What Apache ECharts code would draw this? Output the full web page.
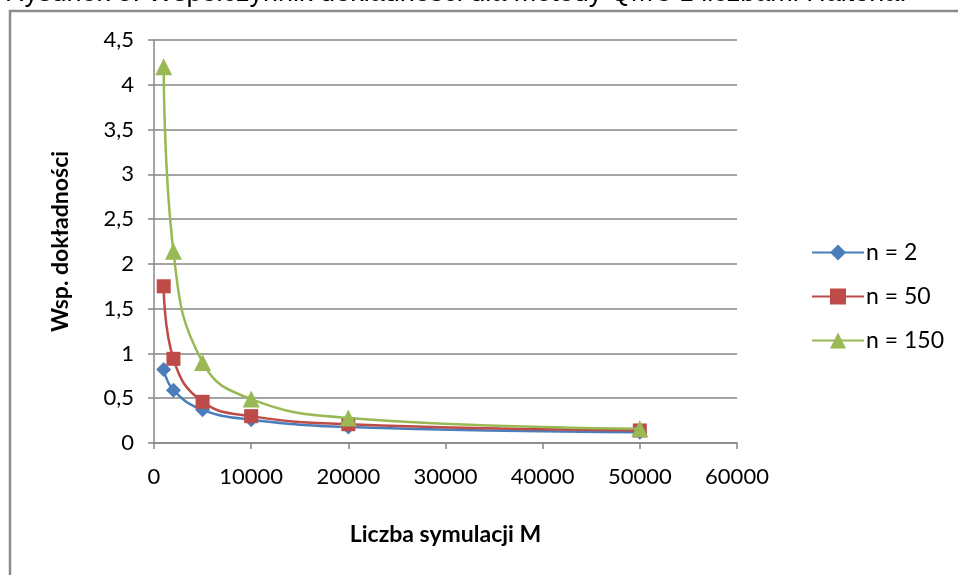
<!DOCTYPE html>
<html>
<head>
<meta charset="utf-8">
<script src="https://cdn.jsdelivr.net/npm/echarts@6/dist/echarts.min.js"></script>
<style>html,body{margin:0;padding:0;background:#fff}#c{width:958px;height:575px}</style>
</head>
<body>
<div id="c"></div>
<script>
const xValues = [1000, 2000, 5000, 10000, 20000, 50000];
const seriesNames = ['n = 2', 'n = 50', 'n = 150'];
const n2 = [0.82, 0.59, 0.37, 0.26, 0.18, 0.12];
const n50 = [1.75, 0.94, 0.46, 0.30, 0.21, 0.14];
const n150 = [4.20, 2.14, 0.90, 0.49, 0.28, 0.16];
const titleText = 'Rysunek 3. Współczynnik dokładności dla metody QMC z liczbami Haltona.';
const xName = 'Liczba symulacji M';
const yName = 'Wsp. dokładności';

const FONT = 'Lato';
const chart = echarts.init(document.getElementById('c'));
function pairs(ys){ return xValues.map((x,i)=>[x, ys[i]]); }
const colors = ['#4A7EBB', '#BE4B48', '#98B954'];
const symbols = ['diamond', 'rect', 'triangle'];
const sizes = [15, 14, 17];
const data = [n2, n50, n150];

chart.setOption({
  animation: false,
  title: {
    text: titleText, left: 0, top: -25,
    textStyle: {fontFamily: 'Liberation Sans', fontSize: 27, fontWeight: 'normal', color: '#000'}
  },
  graphic: [{
    type: 'polyline', silent: true,
    shape: {points: [[10, 600], [10, 11], [960, 11]]},
    style: {stroke: '#8c8c8c', lineWidth: 2.5, fill: null}
  }],
  grid: {left: 154, right: 221, top: 40, bottom: 132},
  legend: {
    orient: 'vertical', left: 806, top: 236, itemGap: 21,
    itemWidth: 52, itemHeight: 20,
    textStyle: {fontFamily: FONT, fontSize: 23, color: '#000', padding: [0, 0, 0, -3]},
    data: seriesNames
  },
  xAxis: {
    type: 'value', min: 0, max: 60000, interval: 10000,
    name: xName, nameLocation: 'middle', nameGap: 80,
    nameTextStyle: {fontFamily: FONT, fontSize: 23, fontWeight: 'bold', color: '#000'},
    axisLine: {show: true, lineStyle: {color: '#868686', width: 1.5}},
    axisTick: {show: true, length: 6, lineStyle: {color: '#868686', width: 1.5}},
    axisLabel: {fontFamily: FONT, fontSize: 22, color: '#000', margin: 23,
      formatter: v => String(v)},
    splitLine: {show: false}
  },
  yAxis: {
    type: 'value', min: 0, max: 4.5, interval: 0.5,
    name: yName, nameLocation: 'middle', nameGap: 82, nameRotate: 90,
    nameTextStyle: {fontFamily: FONT, fontSize: 23, fontWeight: 'bold', color: '#000'},
    axisLine: {show: true, lineStyle: {color: '#868686', width: 1.5}},
    axisTick: {show: true, length: 6, lineStyle: {color: '#868686', width: 1.5}},
    axisLabel: {fontFamily: FONT, fontSize: 22, color: '#000', margin: 20,
      formatter: v => String(v).replace('.', ',')},
    splitLine: {show: true, lineStyle: {color: '#868686', width: 1.5}}
  },
  series: seriesNames.map((n, i) => ({
    name: n, type: 'line', smooth: 0.45,
    data: pairs(data[i]),
    symbol: symbols[i], symbolSize: sizes[i],
    itemStyle: {color: colors[i]},
    lineStyle: {color: colors[i], width: 2.5},
    z: 2 + i
  }))
});
</script>
</body>
</html>
